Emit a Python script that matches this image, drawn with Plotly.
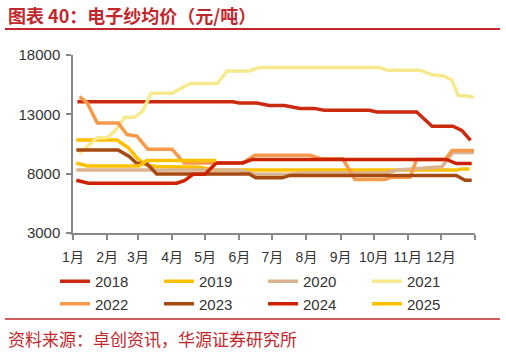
import plotly.graph_objects as go

# ---- data (dummy year 2001 used only to place points on a Jan-Dec date axis) ----
years = ["2018", "2019", "2020", "2021", "2022", "2023", "2024", "2025"]

d2018 = ["01-05", "05-26", "06-01", "06-17", "06-28", "07-12", "07-26", "08-08", "08-17",
         "09-27", "10-04", "11-09", "11-23", "12-12", "12-20", "12-28"]
v2018 = [14050, 14050, 13950, 13950, 13750, 13750, 13500, 13500, 13350,
         13350, 13200, 13200, 12000, 12000, 11650, 10800]

d2019 = ["01-04", "02-10", "02-20", "03-01", "03-09", "03-18", "04-26", "05-10", "12-15", "12-20", "12-27"]
v2019 = [10830, 10830, 10190, 9250, 8700, 8600, 8550, 8300, 8300, 8400, 8400]

d2020 = ["01-04", "06-01", "06-15", "07-17", "07-26", "10-11", "10-23", "12-02", "12-12", "12-31"]
v2020 = [8300, 8300, 7950, 7950, 8050, 8050, 8300, 8580, 9780, 9780]

d2021 = ["01-07", "01-23", "02-01", "02-08", "02-17", "02-26", "03-05", "03-13", "04-01", "04-17",
         "05-12", "05-21", "06-10", "06-19", "10-06", "10-14", "11-12", "11-24", "12-03", "12-11",
         "12-17", "12-24", "12-31"]
v2021 = [9700, 11030, 11030, 11580, 12750, 12750, 13250, 14780, 14780, 15600,
         15600, 16650, 16650, 16950, 16950, 16720, 16720, 16310, 16250, 15890,
         14560, 14560, 14420]

d2022 = ["01-07", "01-14", "01-23", "02-11", "02-19", "02-28", "03-10", "04-01", "04-12", "06-04",
         "06-15", "08-04", "08-15", "09-03", "09-14", "10-11", "10-17", "11-03", "11-09", "12-05",
         "12-11", "12-31"]
v2022 = [14500, 13940, 12280, 12280, 11300, 11170, 10060, 10060, 8900, 8900,
         9550, 9550, 9250, 9250, 7500, 7500, 7700, 7700, 9200, 9200,
         9950, 9950]

d2023 = ["01-04", "02-11", "02-21", "02-28", "03-09", "03-18", "06-10", "06-16", "07-10", "07-17",
         "12-15", "12-23", "12-29"]
v2023 = [10000, 10000, 9450, 8860, 8860, 7970, 7970, 7650, 7650, 7850,
         7850, 7450, 7450]

d2024 = ["01-04", "01-15", "04-05", "04-12", "04-20", "05-01", "05-11", "06-04", "06-13", "12-06",
         "12-15", "12-29"]
v2024 = [7450, 7200, 7200, 7400, 7950, 7950, 8900, 8900, 9200, 9200, 8850, 8850]

d2025 = ["01-04", "01-14", "03-02", "03-09", "05-11"]
v2025 = [8900, 8650, 8650, 9100, 9100]

month_labels = ["1月", "2月", "3月", "4月", "5月", "6月", "7月", "8月", "9月", "10月", "11月", "12月", ""]
y_ticks = [3000, 8000, 13000, 18000]
y_labels = ["3000", "8000", "13000", "18000"]

colors = ["#CC2A0E", "#FFC000", "#D9B48F", "#F7E98E", "#F79A4B", "#A64A12", "#CC2200", "#FFC000"]

series = [(d2018, v2018), (d2019, v2019), (d2020, v2020), (d2021, v2021),
          (d2022, v2022), (d2023, v2023), (d2024, v2024), (d2025, v2025)]

RED = "#C0282D"
FONT = "Liberation Sans, Arial, Noto Sans CJK SC, sans-serif"

fig = go.Figure()
for name, (d, v), c in zip(years, series, colors):
    fig.add_trace(go.Scatter(
        x=["2001-" + s for s in d], y=v, name=name, mode="lines",
        line=dict(color=c, width=3.5), showlegend=True))

tickvals = ["2001-%02d-01" % m for m in range(1, 13)] + ["2002-01-01"]

# plot area in pixels: x 73..475, y 55..233
W, H = 506, 352
L, R, T, B = 73, 475, 55, 233
pw, ph = R - L, B - T
px = lambda x: (x - L) / pw
py = lambda y: (B - y) / ph

fig.update_layout(
    width=W, height=H,
    margin=dict(l=L, r=W - R, t=T, b=H - B, pad=0),
    plot_bgcolor="white", paper_bgcolor="white",
    font=dict(family=FONT, color="#333333", size=14),
    xaxis=dict(type="date", range=["2001-01-01", "2002-01-01"],
               tickvals=tickvals, ticktext=month_labels,
               showgrid=False, zeroline=False,
               showline=True, linecolor="#888888", linewidth=1.5,
               ticks="outside", ticklen=5, tickcolor="#888888", tickwidth=1.5,
               ticklabelstandoff=5,
               tickfont=dict(size=14, family=FONT, color="#333333")),
    yaxis=dict(range=[3000, 18000], tickvals=y_ticks, ticktext=y_labels,
               showgrid=False, zeroline=False,
               showline=True, linecolor="#888888", linewidth=1.5,
               ticks="outside", ticklen=5, tickcolor="#888888", tickwidth=1.5,
               ticklabelstandoff=3,
               tickfont=dict(size=15, family=FONT, color="#333333")),
    legend=dict(orientation="h", x=px(55), xanchor="left", y=py(265), yanchor="top",
                entrywidth=59, entrywidthmode="pixels",
                font=dict(size=15, family=FONT, color="#333333"),
                traceorder="normal", tracegroupgap=0,
                bgcolor="rgba(0,0,0,0)"),
    showlegend=True,
)

fig.add_shape(type="line", xref="paper", yref="paper",
              x0=px(5), x1=px(500), y0=py(29), y1=py(29),
              line=dict(color=RED, width=2))
fig.add_shape(type="line", xref="paper", yref="paper",
              x0=px(5), x1=px(500), y0=py(319), y1=py(319),
              line=dict(color=RED, width=1.5))

fig.add_annotation(xref="paper", yref="paper", x=px(6), y=py(15),
                   xanchor="left", yanchor="middle", showarrow=False,
                   text="<b>图表 40：电子纱均价（元/吨）</b>",
                   font=dict(family="Noto Sans CJK SC", size=18, color=RED))
fig.add_annotation(xref="paper", yref="paper", x=px(6), y=py(338),
                   xanchor="left", yanchor="middle", showarrow=False,
                   text="资料来源：卓创资讯，华源证券研究所",
                   font=dict(family="Noto Sans CJK SC", size=17, color=RED))

fig.write_html("out.html")
